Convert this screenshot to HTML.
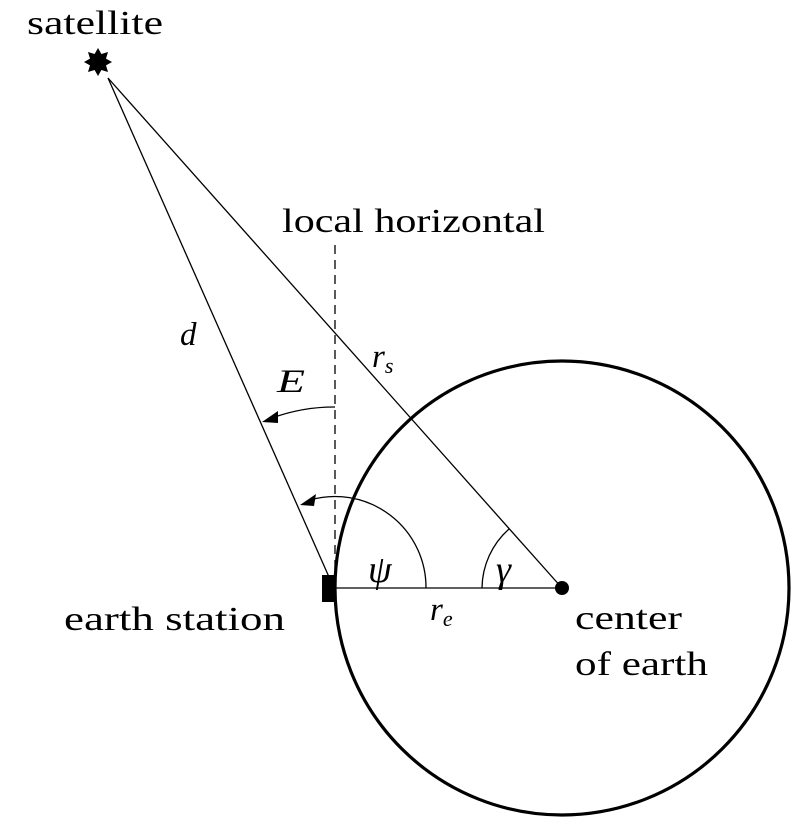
<!DOCTYPE html>
<html><head><style>body{margin:0;background:#fff}svg{display:block}text{font-family:"Liberation Serif",serif;fill:#000}</style></head>
<body>
<svg width="810" height="830" viewBox="0 0 810 830" xmlns="http://www.w3.org/2000/svg">
<circle cx="562" cy="588" r="227" fill="none" stroke="#000" stroke-width="3.2"/>
<line x1="108" y1="78" x2="333" y2="586" stroke="#000" stroke-width="1.3"/>
<line x1="108" y1="78" x2="562" y2="588" stroke="#000" stroke-width="1.3"/>
<line x1="335" y1="588" x2="562" y2="588" stroke="#000" stroke-width="1.3"/>
<line x1="335" y1="245" x2="335" y2="588" stroke="#000" stroke-width="1.3" stroke-dasharray="9,6"/>
<path d="M426 588 A91 91 0 0 0 310 500" fill="none" stroke="#000" stroke-width="1.3"/>
<polygon points="300,505 316,494 314,506" fill="#000"/>
<path d="M335 407 A181 181 0 0 0 272 418" fill="none" stroke="#000" stroke-width="1.3"/>
<polygon points="262,422 278,411 278,423" fill="#000"/>
<path d="M482 588 A80 80 0 0 1 509 529" fill="none" stroke="#000" stroke-width="1.3"/>
<rect x="322" y="575" width="13" height="27" fill="#000"/>
<circle cx="562" cy="588" r="7" fill="#000"/>
<polygon fill="#000" points="98,48 101.4,54 108,52 106,58.6 112,62 106,65.4 108,72 101.4,70 98,76 94.6,70 88,72 90,65.4 84,62 90,58.6 88,52 94.6,54"/>
<text x="27" y="34" font-size="34" textLength="136" lengthAdjust="spacingAndGlyphs">satellite</text>
<text x="282" y="232" font-size="34" textLength="263" lengthAdjust="spacingAndGlyphs">local horizontal</text>
<text x="180" y="345" font-size="33" font-style="italic">d</text>
<text x="372" y="367" font-size="33" font-style="italic">r<tspan font-size="22" dy="6">s</tspan></text>
<text x="277" y="392" font-size="33" font-style="italic" textLength="28" lengthAdjust="spacingAndGlyphs">E</text>
<text x="368" y="582" font-size="38" font-style="italic">ψ</text>
<text x="496" y="582" font-size="38" font-style="italic">γ</text>
<text x="430" y="620" font-size="33" font-style="italic">r<tspan font-size="22" dy="6">e</tspan></text>
<text x="64" y="630" font-size="34" textLength="221" lengthAdjust="spacingAndGlyphs">earth station</text>
<text x="575" y="629" font-size="34" textLength="107" lengthAdjust="spacingAndGlyphs">center</text>
<text x="575" y="675" font-size="34" textLength="133" lengthAdjust="spacingAndGlyphs">of earth</text>
</svg>
</body></html>
